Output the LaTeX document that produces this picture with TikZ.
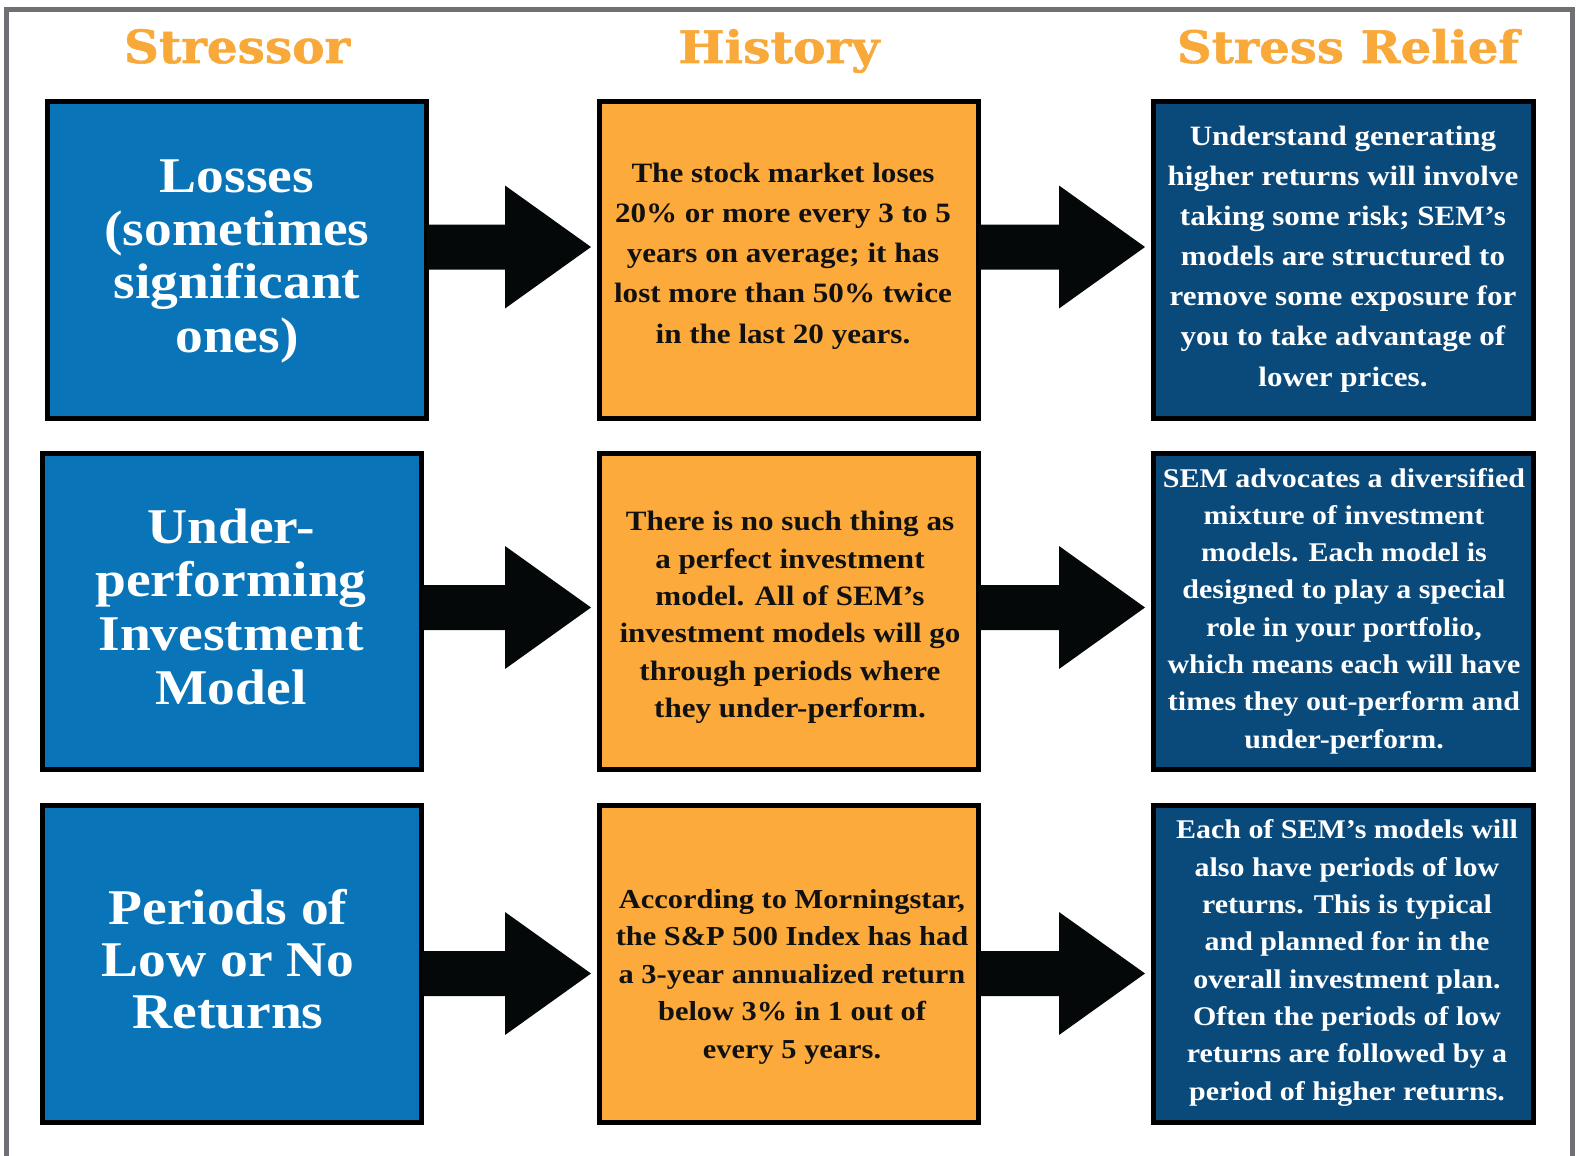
\documentclass[tikz,border=0pt]{standalone}
\usepackage{graphicx}
\usepackage{fontspec}
\setmainfont{Liberation Serif}
\newfontfamily\boxfont[FakeStretch=1.11]{Liberation Serif}
\newfontfamily\headfont[FakeBold=1.2]{DejaVu Serif}
\usetikzlibrary{calc}
\definecolor{sblue}{RGB}{10,116,184}
\definecolor{sorange}{RGB}{251,170,59}
\definecolor{sdark}{RGB}{10,74,123}
\definecolor{sframe}{RGB}{112,111,116}
\definecolor{sarrow}{RGB}{4,8,8}
\definecolor{shead}{RGB}{249,169,58}
\definecolor{stext}{RGB}{17,17,17}
\tikzset{
  box/.style={draw=black, line width=5pt, inner sep=0pt, anchor=center, minimum height=316.5pt},
  lbox/.style={box, fill=sblue, minimum width=379pt},
  cbox/.style={box, fill=sorange, minimum width=379pt},
  rbox/.style={box, fill=sdark, minimum width=380pt},
  ltext/.style={align=center, text=white, inner sep=0pt, font={\boxfont\bfseries\fontsize{50}{#1}\selectfont}},
  ctext/.style n args={2}{align=center, text=stext, inner sep=0pt, font={\boxfont\bfseries\fontsize{#1}{#2}\selectfont}},
  rtext/.style n args={2}{align=center, text=white, inner sep=0pt, font={\boxfont\bfseries\fontsize{#1}{#2}\selectfont}},
  head/.style={anchor=base, text=shead, inner sep=0pt, font={\headfont\bfseries}},
  arrowfill/.style={fill=sarrow}
}
\newcommand\stressarrow[3]{%
  \fill[arrowfill] let \p1=(#1.east), \p2=(#2.west) in
    (\x1-2pt,#3+22.5pt) -- (\x2-92pt,#3+22.5pt) -- (\x2-92pt,#3+61.5pt) --
    (\x2-6pt,#3) -- (\x2-92pt,#3-61.5pt) -- (\x2-92pt,#3-22.5pt) --
    (\x1-2pt,#3-22.5pt) -- cycle;}
\begin{document}
\begin{tikzpicture}[x=1pt,y=1pt]
\useasboundingbox (0,0) rectangle (1577,-1156);
\fill[white] (0,0) rectangle (1577,-1156);
\draw[sframe, line width=5pt] (6.5,-1156) -- (6.5,-9.5) -- (1572.5,-9.5) -- (1572.5,-1156);

% headings
\node[head] (h1) at (237,-63) {\resizebox{226pt}{34pt}{Stressor}};
\node[head] (h2) at (779,-63) {\resizebox{201pt}{34pt}{History}};
\node[head] (h3) at (1348,-63) {\resizebox{342pt}{34pt}{Stress Relief}};

% boxes
\node[lbox, minimum width=379pt] (L1) at (237,-260) {};
\node[lbox] (L2) at (232,-611.5) {};
\node[lbox] (L3) at (232,-964) {};
\node[cbox] (C1) at (789,-260) {};
\node[cbox] (C2) at (789,-611.5) {};
\node[cbox] (C3) at (789,-964) {};
\node[rbox] (R1) at (1343.5,-260) {};
\node[rbox] (R2) at (1343.5,-611.5) {};
\node[rbox] (R3) at (1343.5,-964) {};

% arrows
\stressarrow{L1}{C1}{-247pt}
\stressarrow{C1}{R1}{-247pt}
\stressarrow{L2}{C2}{-607.5pt}
\stressarrow{C2}{R2}{-607.5pt}
\stressarrow{L3}{C3}{-973.5pt}
\stressarrow{C3}{R3}{-973.5pt}

% texts
\node[ltext=53.3] (L1t) at (237,-261) {Losses\\(sometimes\\significant\\ones)};
\node[ltext=53.7] (L2t) at (231,-606.5) {Under-\\performing\\Investment\\Model};
\node[ltext=52.3] (L3t) at (228,-959) {Periods of\\Low or No\\Returns};

\node[ctext={28}{40.2}] (C1t) at (783,-256) {The stock market loses\\20\% or more every 3 to 5\\years on average; it has\\lost more than 50\% twice\\in the last 20 years.};
\node[ctext={28}{37.4}] (C2t) at (790,-617.5) {There is no such thing as\\a perfect investment\\model. All of SEM’s\\investment models will go\\through periods where\\they under-perform.};
\node[ctext={27.4}{37.5}] (C3t) at (792,-976.5) {According to Morningstar,\\the S\&P 500 Index has had\\a 3-year annualized return\\below 3\% in 1 out of\\every 5 years.};

\node[rtext={28}{40.1}] (R1t) at (1343,-259) {Understand generating\\higher returns will involve\\taking some risk; SEM’s\\models are structured to\\remove some exposure for\\you to take advantage of\\lower prices.};
\node[rtext={27}{37.3}] (R2t) at (1344,-611) {SEM advocates a diversified\\mixture of investment\\models. Each model is\\designed to play a special\\role in your portfolio,\\which means each will have\\times they out-perform and\\under-perform.};
\node[rtext={27}{37.3}] (R3t) at (1347,-963) {Each of SEM’s models will\\also have periods of low\\returns. This is typical\\and planned for in the\\overall investment plan.\\Often the periods of low\\returns are followed by a\\period of higher returns.};
\end{tikzpicture}
\end{document}
